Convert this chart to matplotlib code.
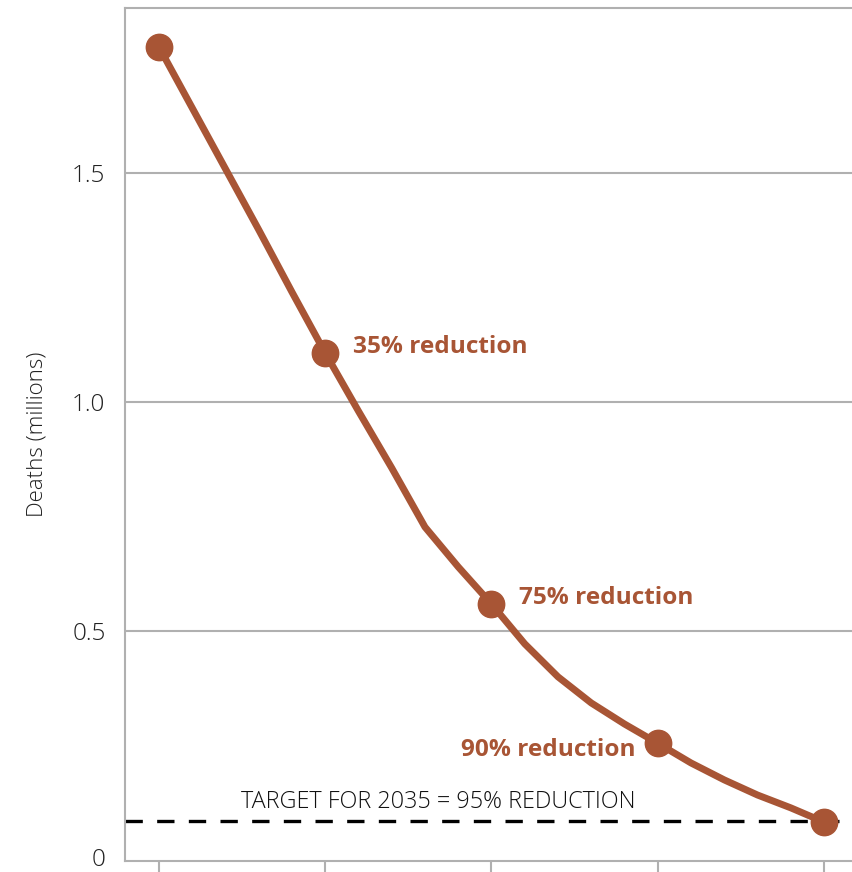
import matplotlib
matplotlib.use("Agg")
from matplotlib import pyplot as plt
from matplotlib.transforms import ScaledTranslation

# projected deaths (millions), annual
years = list(range(2015, 2036))
deaths = [1.775, 1.642, 1.509, 1.376, 1.240, 1.107,
          0.980, 0.856, 0.727, 0.640, 0.559,
          0.472, 0.400, 0.343, 0.297, 0.255,
          0.212, 0.175, 0.142, 0.114, 0.083]
milestone_years = [2015, 2020, 2025, 2030, 2035]
milestone_labels = {2020: "35% reduction", 2025: "75% reduction", 2030: "90% reduction"}
target = 0.085
target_text = "TARGET FOR 2035 = 95% REDUCTION"

rust = "#a85535"
grey = "#b0b0b0"
plt.rcParams['font.family'] = ['Open Sans', 'DejaVu Sans']

fig = plt.figure(figsize=(8.52, 8.72), dpi=100)
ax = fig.add_axes([125/852, 11/872, 1 - 125/852, (872 - 11 - 8)/872])

ax.set_xlim(2013.98, 2035.84)
ax.set_ylim(-0.002, 1.86)

for v in [0.5, 1.0, 1.5]:
    ax.axhline(v, color=grey, lw=1.5, zorder=0)

ax.axhline(target, color="black", lw=2.4, dashes=(5.2, 4.3), zorder=1)
ax.text(2017.47, target + 0.015, target_text, ha="left", va="bottom",
        fontsize=16.8, fontweight="light", color="#111111")

ax.plot(years, deaths, color=rust, lw=5, solid_capstyle="round", zorder=2)
my = [deaths[years.index(y)] for y in milestone_years]
ax.plot(milestone_years, my, "o", color=rust, ms=19, zorder=3)

for yr, lab in milestone_labels.items():
    val = deaths[years.index(yr)]
    if yr == 2030:
        ax.annotate(lab, (yr, val), xytext=(-16, -5), textcoords="offset points",
                    ha="right", va="center", fontsize=17.6, fontweight="bold", color=rust)
    else:
        ax.annotate(lab, (yr, val), xytext=(20, 4), textcoords="offset points",
                    ha="left", va="center", fontsize=17.6, fontweight="bold", color=rust)

ax.set_yticks([0, 0.5, 1.0, 1.5])
ax.set_yticklabels(["0", "0.5", "1.0", "1.5"])
ax.set_xticks(milestone_years)
ax.set_xticklabels([])
ax.tick_params(axis="y", length=0, pad=14, labelsize=17.5, labelcolor="#222222")
for t in ax.get_yticklabels():
    t.set_fontweight("light")
# lift the "0" label a little so it stays inside the figure
zero = ax.get_yticklabels()[0]
zero.set_transform(zero.get_transform() + ScaledTranslation(0, 3/100, fig.dpi_scale_trans))
ax.tick_params(axis="x", length=11, width=1.5, color=grey, direction="out")
ax.set_ylabel("Deaths (millions)", fontsize=16, fontweight="light",
              color="#222222", labelpad=18)

for s in ["left", "bottom", "top"]:
    ax.spines[s].set_color(grey)
    ax.spines[s].set_linewidth(1.5)
ax.spines["right"].set_visible(False)

fig.savefig("out.png", dpi=100)
